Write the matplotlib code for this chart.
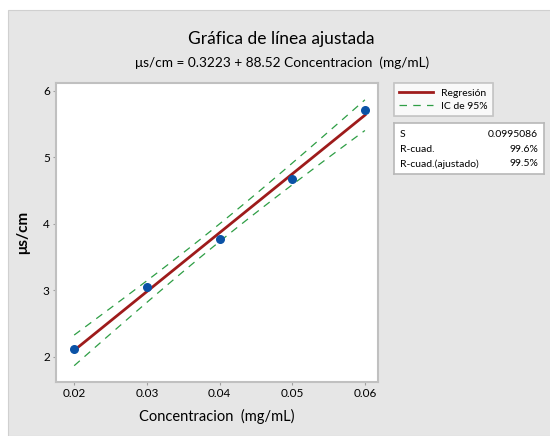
import numpy as np
import matplotlib
matplotlib.use("Agg")
import matplotlib.pyplot as plt
from matplotlib.patches import Rectangle
from matplotlib.lines import Line2D

plt.rcParams['font.family'] = ['Lato', 'DejaVu Sans']

# data
conc = np.array([0.02, 0.03, 0.04, 0.05, 0.06])
us_cm = np.array([2.11, 3.05, 3.77, 4.68, 5.72])
t_crit = 3.182  # t(0.975, 3 gl)

stat_names = ["S", "R-cuad.", "R-cuad.(ajustado)"]
stat_values = ["0.0995086", "99.6%", "99.5%"]
xticks = [0.02, 0.03, 0.04, 0.05, 0.06]
yticks = [2, 3, 4, 5, 6]

# regression and 95% CI
slope, icpt = np.polyfit(conc, us_cm, 1)
resid = us_cm - (icpt + slope * conc)
s = np.sqrt(np.sum(resid ** 2) / (len(conc) - 2))
xx = np.linspace(conc.min(), conc.max(), 100)
fit = icpt + slope * xx
half = t_crit * s * np.sqrt(1 / len(conc) + (xx - conc.mean()) ** 2 / np.sum((conc - conc.mean()) ** 2))

fig = plt.figure(figsize=(5.5, 4.36), dpi=100)
fig.patch.set_facecolor("white")
fig.patches.append(Rectangle((8 / 550, 0), 1, 1 - 10 / 436, transform=fig.transFigure,
                             facecolor="#e6e6e6", edgecolor="#d0d0d0", lw=0.8, zorder=-1))

ax = fig.add_axes([56 / 550, 1 - 382 / 436, 322 / 550, 299 / 436])
ax.plot(xx, fit, color="#9e1b1b", lw=2, zorder=3)
ax.plot(xx, fit + half, color="#2e9e45", lw=0.9, dashes=(6, 5), zorder=2)
ax.plot(xx, fit - half, color="#2e9e45", lw=0.9, dashes=(6, 5), zorder=2)
ax.scatter(conc, us_cm, s=30, color="#0a52a6", zorder=4)

ax.set_xlim(0.0175, 0.0618)
ax.set_ylim(1.62, 6.12)
ax.set_xticks(xticks)
ax.set_xticklabels([f"{v:.2f}" for v in xticks])
ax.set_yticks(yticks)
ax.tick_params(labelsize=8.5, length=2.5, color="#a0a0a0", width=0.8, pad=2)
for sp in ax.spines.values():
    sp.set_color("#c0c0c0")
    sp.set_linewidth(1.5)

ax.set_xlabel("Concentracion  (mg/mL)", fontsize=10.5, labelpad=7)
ax.set_ylabel("μs/cm", fontsize=11, fontweight="bold", labelpad=9)

fig.text(0.512, 1 - 39 / 436, "Gráfica de línea ajustada", ha="center", va="center", fontsize=12.5)
fig.text(0.513, 1 - 63 / 436, "μs/cm = 0.3223 + 88.52 Concentracion  (mg/mL)",
         ha="center", va="center", fontsize=9.8)

handles = [Line2D([], [], color="#9e1b1b", lw=2),
           Line2D([], [], color="#2e9e45", lw=0.9, dashes=(6, 5))]
leg = fig.legend(handles, ["Regresión", "IC de 95%"], loc="upper left",
                 bbox_to_anchor=(394 / 550, 1 - 83 / 436), fontsize=7.5,
                 frameon=True, fancybox=False, edgecolor="#b8b8b8",
                 handlelength=3.2, borderpad=0.5, labelspacing=0.4, borderaxespad=0)
leg.get_frame().set_linewidth(1.2)

sax = fig.add_axes([394 / 550, 1 - 174 / 436, 150 / 550, 51 / 436])
sax.set_xticks([])
sax.set_yticks([])
for sp in sax.spines.values():
    sp.set_color("#b8b8b8")
    sp.set_linewidth(1.2)
for i, (nm, val) in enumerate(zip(stat_names, stat_values)):
    yy = 0.78 - i * 0.29
    sax.text(0.04, yy, nm, fontsize=7.5, va="center", ha="left", transform=sax.transAxes)
    sax.text(0.96, yy, val, fontsize=7.5, va="center", ha="right", transform=sax.transAxes)

fig.savefig("out.png", dpi=100)
